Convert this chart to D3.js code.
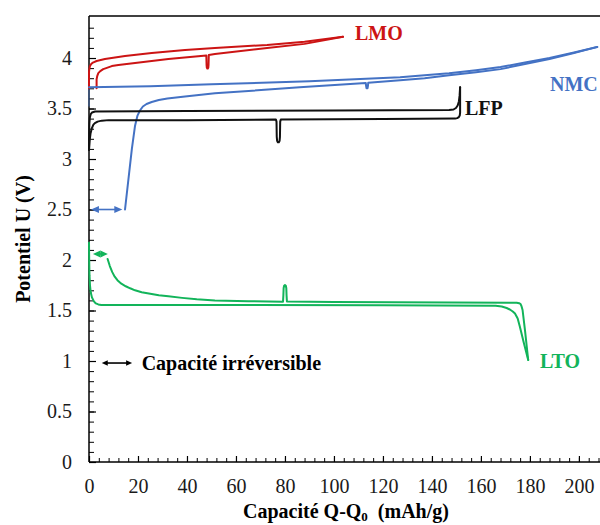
<!DOCTYPE html>
<html>
<head>
<meta charset="utf-8">
<script src="https://cdn.jsdelivr.net/npm/d3@7"></script>
<style>
  html, body { margin: 0; padding: 0; background: #fff; }
  svg { display: block; }
  text { font-family: "Liberation Serif", "Times New Roman", serif; }
</style>
</head>
<body>
<svg id="chart" width="600" height="525"></svg>
<script>
// ---- Data (capacity Q-Q0 in mAh/g, potential U in V) ----
const xTicks = [0, 20, 40, 60, 80, 100, 120, 140, 160, 180, 200];
const yTicks = [0, 0.5, 1, 1.5, 2, 2.5, 3, 3.5, 4];
const yTickLabels = ["0", "0.5", "1", "1.5", "2", "2.5", "3", "3.5", "4"];

const lmoCharge = [[0,3.70],[0,3.86],[0.15,3.895],[0.4,3.92],[0.9,3.94],[1.6,3.955],[3.1,3.97],[6.5,3.99],[14.7,4.02],[25.6,4.05],[39.2,4.08],[51.4,4.10],[72.7,4.13],[88,4.16],[103.7,4.21]];
const lmoDischarge = [[103.7,4.21],[88,4.14],[72.7,4.10],[51.4,4.04],[48.9,4.03],[48.8,3.93],[48.7,3.905],[48.5,3.895],[48.3,3.895],[48.1,3.905],[48.0,3.93],[47.9,4.025],[32.4,3.99],[18.8,3.95],[12,3.93],[9.3,3.92],[7,3.90],[5.8,3.89],[4.6,3.87],[3.8,3.85],[3.35,3.82],[3.1,3.79],[3.1,3.70]];

const nmcRest = [[0,3.52],[0,3.71]];
const nmcDischarge = [[0,3.71],[25,3.72],[50,3.74],[90,3.77],[127,3.81],[137,3.83],[147,3.85],[158,3.88],[168,3.91],[178,3.955],[188,4.00],[198,4.055],[207.5,4.11]];
const nmcCharge = [[14.7,2.50],[17.5,3.10],[18.8,3.33],[19.8,3.43],[20.8,3.48],[22,3.52],[23.5,3.545],[25.6,3.565],[28.5,3.585],[32,3.60],[39.2,3.62],[51.4,3.65],[86,3.71],[113.0,3.752],[113.15,3.72],[113.3,3.70],[113.7,3.70],[113.85,3.72],[114.0,3.756],[127,3.78],[137,3.80],[147,3.83],[158,3.86],[168,3.89],[178,3.94],[188,3.99],[198,4.05],[207.5,4.11]];

const lfpCharge = [[0,3.09],[0.05,3.25],[0.15,3.35],[0.35,3.41],[0.7,3.445],[1.2,3.46],[2.5,3.47],[40,3.475],[100,3.48],[147,3.485],[148.8,3.49],[149.8,3.505],[150.5,3.53],[151.0,3.57],[151.3,3.63],[151.5,3.71]];
const lfpDischarge = [[151.5,3.71],[151.5,3.46],[151.35,3.43],[151.0,3.415],[150.3,3.405],[149.5,3.40],[120,3.395],[78.3,3.39],[78.05,3.37],[77.95,3.22],[77.8,3.18],[77.5,3.165],[77.1,3.165],[76.8,3.18],[76.65,3.22],[76.55,3.37],[76.3,3.39],[40,3.385],[8,3.385],[5.2,3.38],[3.5,3.37],[2.4,3.355],[1.8,3.34],[1.1,3.30],[0.6,3.25],[0.3,3.19],[0,3.09]];

const ltoLower = [[0,2.17],[0.08,2.0],[0.2,1.85],[0.4,1.75],[0.7,1.68],[1.2,1.63],[2.0,1.59],[2.8,1.57],[3.8,1.56],[5,1.555],[60,1.555],[120,1.553],[166,1.548],[168.5,1.54],[170.5,1.525],[171.8,1.51],[173.0,1.49],[173.9,1.47],[175.0,1.42],[175.9,1.34],[177.5,1.18],[179.3,1.01]];
const ltoUpper = [[7.6,2.01],[8.5,1.94],[9.5,1.88],[10.5,1.835],[11.6,1.80],[13.2,1.765],[15,1.74],[16.8,1.72],[18.8,1.70],[21.5,1.68],[25,1.665],[28.5,1.65],[32.4,1.64],[38,1.625],[44,1.612],[51.4,1.60],[65,1.592],[79.2,1.587],[79.35,1.65],[79.45,1.72],[79.65,1.745],[80.0,1.752],[80.35,1.745],[80.55,1.72],[80.65,1.65],[80.8,1.59],[100,1.585],[174.6,1.577],[175.6,1.572],[176.2,1.564],[176.6,1.54],[177,1.505],[178,1.30],[179.3,1.01]];

const series = [
  { name: "LMO", color: "#cc1414", curves: [lmoCharge, lmoDischarge], label: [108.6, 4.178] },
  { name: "NMC", color: "#4472c4", curves: [nmcDischarge, nmcCharge], label: [188.2, 3.676] },
  { name: "LFP", color: "#111111", curves: [lfpCharge, lfpDischarge], label: [153.5, 3.436] },
  { name: "LTO", color: "#12b45a", curves: [ltoLower, ltoUpper], label: [184.1, 0.928] }
];

// irreversible capacity arrows
const irrevArrows = [
  { color: "#4472c4", q: [0.8, 13.6], u: 2.5, head: 8, w: 3.5 },
  { color: "#12b45a", q: [1.6, 7.7], u: 2.06, head: 7.5, w: 3.5 },
  { color: "#000000", q: [5.2, 17.6], u: 0.98, head: 6, w: 2.8 }
];

// ---- Chart ----
const svg = d3.select("#chart");
const x = d3.scaleLinear().domain([0, 208.2]).range([89, 599]);
const y = d3.scaleLinear().domain([0, 4.416]).range([462, 16]);
const serif = "'Liberation Serif', 'Times New Roman', serif";

// top frame line
svg.append("line").attr("x1", 89).attr("x2", 600).attr("y1", 16).attr("y2", 16)
  .attr("stroke", "#000").attr("stroke-width", 1.3);

// minor ticks
const xMinor = d3.range(0, 208.1, 4);
const yMinor = d3.range(0, 44).map(i => i / 10);
svg.append("g").attr("transform", `translate(0,${y(0)})`)
  .call(d3.axisBottom(x).tickValues(xMinor).tickSize(-4).tickFormat(""))
  .call(g => g.select(".domain").remove())
  .call(g => g.selectAll("line").attr("stroke", "#000").attr("stroke-width", 1));
svg.append("g").attr("transform", `translate(${x(0)},0)`)
  .call(d3.axisLeft(y).tickValues(yMinor).tickSize(-5).tickFormat(""))
  .call(g => g.select(".domain").remove())
  .call(g => g.selectAll("line").attr("stroke", "#000").attr("stroke-width", 1));

// major axes
const xAxis = svg.append("g").attr("transform", `translate(0,${y(0)})`)
  .call(d3.axisBottom(x).tickValues(xTicks).tickSizeInner(-6).tickSizeOuter(0).tickPadding(17).tickFormat(d3.format("d")));
xAxis.select(".domain").attr("d", `M${x(0)},0H600`).attr("stroke", "#000").attr("stroke-width", 1.5);
xAxis.selectAll("line").attr("stroke", "#000").attr("stroke-width", 1.2);
xAxis.selectAll("text").attr("font-size", 20).attr("fill", "#1a1a1a").style("font-family", serif);

const yAxis = svg.append("g").attr("transform", `translate(${x(0)},0)`)
  .call(d3.axisLeft(y).tickValues(yTicks).tickSizeInner(-7).tickSizeOuter(0).tickPadding(17)
    .tickFormat((d, i) => yTickLabels[i]));
yAxis.select(".domain").attr("d", `M0,${y(0)}V16`).attr("stroke", "#000").attr("stroke-width", 1.5);
yAxis.selectAll("line").attr("stroke", "#000").attr("stroke-width", 1.2);
yAxis.selectAll("text").attr("font-size", 20).attr("fill", "#1a1a1a").style("font-family", serif);

// curves
const line = d3.line().x(d => x(d[0])).y(d => y(d[1]));
svg.append("path").datum(nmcRest).attr("d", line)
  .attr("fill", "none").attr("stroke", "#4472c4").attr("stroke-opacity", 0.55).attr("stroke-width", 1.5);
series.forEach(s => {
  s.curves.forEach(c => {
    svg.append("path").datum(c).attr("d", line)
      .attr("fill", "none").attr("stroke", s.color).attr("stroke-width", 2)
      .attr("stroke-linejoin", "round").attr("stroke-linecap", "round");
  });
  svg.append("text").attr("x", x(s.label[0])).attr("y", y(s.label[1]))
    .attr("font-size", 20).attr("font-weight", "bold").attr("fill", s.color)
    .style("font-family", serif)
    .text(s.name);
});

// arrows
irrevArrows.forEach(a => {
  const x0 = x(a.q[0]), x1 = x(a.q[1]), yy = y(a.u);
  const g = svg.append("g").attr("fill", a.color).attr("stroke", a.color);
  g.append("line").attr("x1", x0 + a.head - 1).attr("x2", x1 - a.head + 1)
    .attr("y1", yy).attr("y2", yy).attr("stroke-width", 1.6);
  g.append("path").attr("stroke", "none")
    .attr("d", `M${x0},${yy}L${x0 + a.head},${yy - a.w}L${x0 + a.head},${yy + a.w}Z`);
  g.append("path").attr("stroke", "none")
    .attr("d", `M${x1},${yy}L${x1 - a.head},${yy - a.w}L${x1 - a.head},${yy + a.w}Z`);
});

svg.append("text").attr("x", x(21.5)).attr("y", y(0.911))
  .attr("font-size", 20).attr("font-weight", "bold").attr("fill", "#000")
  .style("font-family", serif)
  .text("Capacité irréversible");

// axis titles
const xt = svg.append("text").attr("x", 346).attr("y", 517.5).attr("text-anchor", "middle")
  .attr("font-size", 20).attr("font-weight", "bold").attr("fill", "#000").style("font-family", serif);
xt.append("tspan").text("Capacité Q-Q");
xt.append("tspan").attr("font-size", 13).attr("dy", 3).text("0");
xt.append("tspan").attr("dy", -3).text("\u00a0 (mAh/g)");

svg.append("text").attr("transform", `translate(30,239) rotate(-90)`)
  .attr("text-anchor", "middle").attr("font-size", 20).attr("font-weight", "bold").attr("fill", "#000")
  .style("font-family", serif)
  .text("Potentiel U (V)");
</script>
</body>
</html>
